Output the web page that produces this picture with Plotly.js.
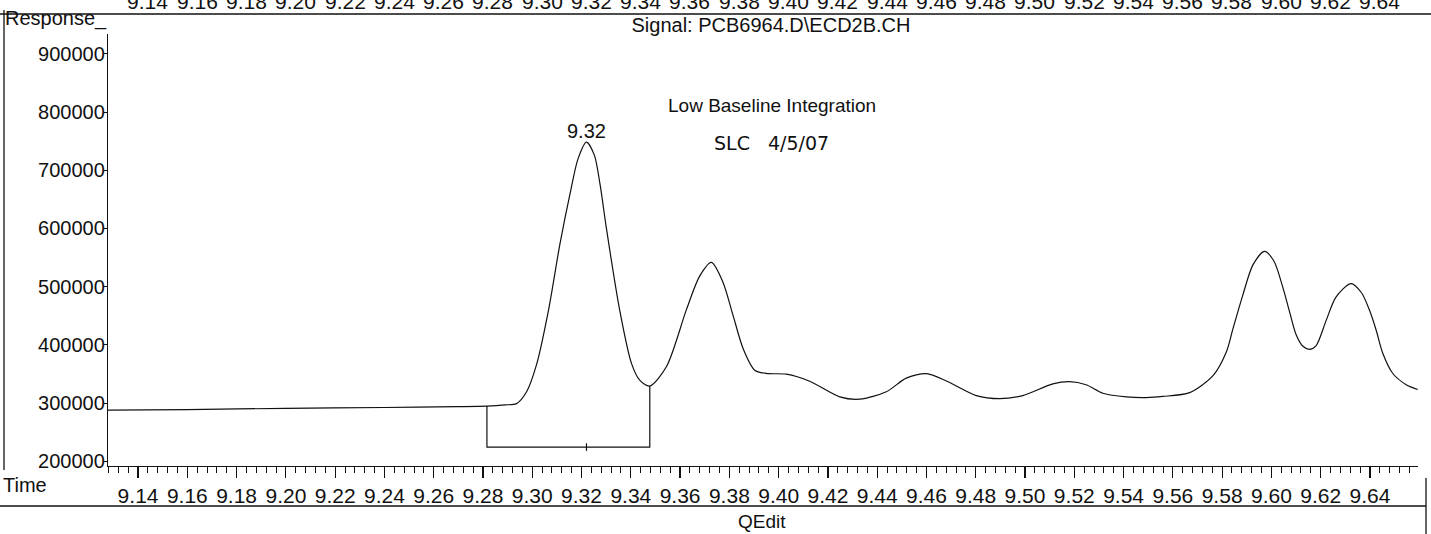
<!DOCTYPE html>
<html>
<head>
<meta charset="utf-8">
<script src="https://cdn.plot.ly/plotly-3.0.1.min.js"></script>
<style>html,body{margin:0;padding:0;background:#fff;}#chart{width:1431px;height:534px;}</style>
</head>
<body>
<div id="chart"></div>
<script>
// ---- Data ----
const time = [9.1278, 9.16, 9.20, 9.24, 9.27, 9.2816, 9.289, 9.2936, 9.2977, 9.3017, 9.3065, 9.3112, 9.3153,
  9.3186, 9.3220, 9.3252, 9.3275, 9.3301, 9.3355, 9.3403, 9.3436, 9.3477,
  9.3545, 9.3626, 9.3680, 9.3727, 9.3774, 9.3815, 9.3856, 9.3903, 9.3950, 9.4031, 9.4126, 9.4248, 9.4329,
  9.4437, 9.4518, 9.4600, 9.4681, 9.4802, 9.4897, 9.4991, 9.5113, 9.5181, 9.5248, 9.5316, 9.5411, 9.5492,
  9.5559, 9.5668, 9.5763, 9.5817, 9.5844, 9.5884, 9.5925, 9.5972, 9.6010, 9.6047, 9.6073, 9.6100, 9.6127,
  9.6154, 9.6181, 9.6222, 9.6262, 9.6323, 9.6365, 9.6398, 9.6425, 9.6452, 9.6492, 9.6547, 9.6594];
const response = [288000, 289000, 291000, 292500, 294000, 295000, 297000, 299100, 319500, 365600, 457700, 572600, 658900,
  720000, 748400, 726000, 676000, 600000, 459400, 367800, 339400, 329300,
  363000, 461000, 518600, 541800, 507800, 450600, 393500, 356500, 351000, 349700, 337500, 310700, 306700,
  319500, 342900, 350600, 338000, 312900, 307600, 312900, 333000, 336800, 331500, 317000, 310700, 309500,
  311500, 318000, 347100, 387700, 427900, 485600, 537400, 560700, 544000, 498000, 458000, 417900, 398100,
  392400, 398400, 441700, 482100, 505300, 490000, 459900, 425600, 385500, 351300, 331700, 323400];

// integration (low baseline) of the 9.32 peak
const peakTime = 9.3220;
const peakResp = 748400;
const peakLabel = "9.32";
const intStartTime = 9.2816, intStartResp = 295000;
const intEndTime = 9.3477, intEndResp = 329300;
const lowBaseline = 224500;

// axis ticks
const xTickVals = [9.14, 9.16, 9.18, 9.20, 9.22, 9.24, 9.26, 9.28, 9.30, 9.32, 9.34, 9.36, 9.38, 9.40,
  9.42, 9.44, 9.46, 9.48, 9.50, 9.52, 9.54, 9.56, 9.58, 9.60, 9.62, 9.64];
const xTickText = ["9.14", "9.16", "9.18", "9.20", "9.22", "9.24", "9.26", "9.28", "9.30", "9.32", "9.34", "9.36", "9.38", "9.40",
  "9.42", "9.44", "9.46", "9.48", "9.50", "9.52", "9.54", "9.56", "9.58", "9.60", "9.62", "9.64"];
const yTickVals = [200000, 300000, 400000, 500000, 600000, 700000, 800000, 900000];
const yTickText = ["200000", "300000", "400000", "500000", "600000", "700000", "800000", "900000"];

const signalTitle = "Signal: PCB6964.D\\ECD2B.CH";
const noteText = "Low Baseline Integration";
const handNote = "SLC &nbsp; 4/5/07";

// ---- Layout helpers (pixel -> paper, for page decorations only) ----
const W = 1431, H = 534, ML = 108, MR = 13, MT = 34, MB = 68;
const PW = W - ML - MR, PH = H - MT - MB;
const px = p => (p - ML) / PW;
const py = p => (H - MB - p) / PH;
const FONT = "Liberation Sans, Arial, Helvetica, sans-serif";
const INK = "#111";

const traces = [
  {x: time, y: response, type: "scatter", mode: "lines",
   line: {color: INK, width: 1.2, shape: "spline", smoothing: 0.8}, hoverinfo: "x+y"},
  {x: [intStartTime, intStartTime, intEndTime, intEndTime],
   y: [intStartResp, lowBaseline, lowBaseline, intEndResp],
   type: "scatter", mode: "lines", line: {color: INK, width: 1.2}, hoverinfo: "skip"},
  {x: [peakTime, peakTime], y: [lowBaseline - 6500, lowBaseline + 6500],
   type: "scatter", mode: "lines", line: {color: INK, width: 1.2}, hoverinfo: "skip"}
];

function note(x, y, text, size, opts) {
  return Object.assign({xref: "paper", yref: "paper", x: px(x), y: py(y), text: text, showarrow: false,
    xanchor: "center", yanchor: "middle", font: {family: FONT, size: size, color: INK}}, opts || {});
}

const annotations = [
  {xref: "x", yref: "y", x: peakTime, y: peakResp, text: peakLabel, showarrow: false,
   xanchor: "center", yanchor: "bottom", yshift: -2, font: {family: FONT, size: 20, color: INK}},
  note(772, 106, noteText, 19),
  note(771, 143, handNote, 19, {font: {family: "DejaVu Sans, sans-serif", size: 19, color: INK}}),
  note(3, 18, "Response_", 20, {xanchor: "left"}),
  note(1, 485, "Time", 20, {xanchor: "left"}),
  note(762, 521, "QEdit", 19)
];
// cut-off labels of the previous page's axis at the very top
xTickVals.forEach((v, i) => {
  annotations.push({xref: "x", yref: "paper", x: v + 0.004, y: py(2), text: xTickText[i], showarrow: false,
    xanchor: "center", yanchor: "middle", font: {family: FONT, size: 21, color: INK}});
});

const lineStyle = {color: INK, width: 1.3};
const shapes = [
  {type: "line", xref: "paper", yref: "paper", x0: px(0), x1: px(1431), y0: py(14), y1: py(14), line: lineStyle},
  {type: "line", xref: "paper", yref: "paper", x0: px(4), x1: px(4), y0: py(10), y1: py(470), line: lineStyle},
  {type: "line", xref: "paper", yref: "paper", x0: px(0), x1: px(1426), y0: py(506), y1: py(506), line: lineStyle},
  {type: "line", xref: "paper", yref: "paper", x0: px(1426), x1: px(1426), y0: py(478), y1: py(534), line: lineStyle}
];

const layout = {
  width: W, height: H,
  margin: {l: ML, r: MR, t: MT, b: MB, pad: 0},
  paper_bgcolor: "#fff", plot_bgcolor: "#fff",
  showlegend: false,
  font: {family: FONT, color: INK},
  title: {text: signalTitle, x: 771 / W, xanchor: "center", xref: "container",
          y: 1 - 25 / H, yanchor: "middle", yref: "container",
          font: {family: FONT, size: 20, color: INK}},
  xaxis: {range: [9.1278, 9.6595], showline: true, linecolor: INK, linewidth: 1.2,
          showgrid: false, zeroline: false, ticks: "outside", ticklen: 11, tickwidth: 1.2, tickcolor: INK,
          tickmode: "array", tickvals: xTickVals, ticktext: xTickText,
          tickfont: {family: FONT, size: 21, color: INK},
          minor: {ticks: "outside", ticklen: 6, tickwidth: 1, tickcolor: INK, tickmode: "linear",
                  tick0: 9.14, dtick: 0.004, showgrid: false},
          fixedrange: true},
  yaxis: {range: [192000, 934000], showline: true, linecolor: INK, linewidth: 1.2,
          showgrid: false, zeroline: false, ticks: "outside", ticklen: 3, tickwidth: 1, tickcolor: INK,
          tickmode: "array", tickvals: yTickVals, ticktext: yTickText, ticklabelstandoff: -5,
          tickfont: {family: FONT, size: 20, color: INK}, fixedrange: true},
  annotations: annotations,
  shapes: shapes
};

Plotly.newPlot("chart", traces, layout, {displayModeBar: false, staticPlot: true});
</script>
</body>
</html>
